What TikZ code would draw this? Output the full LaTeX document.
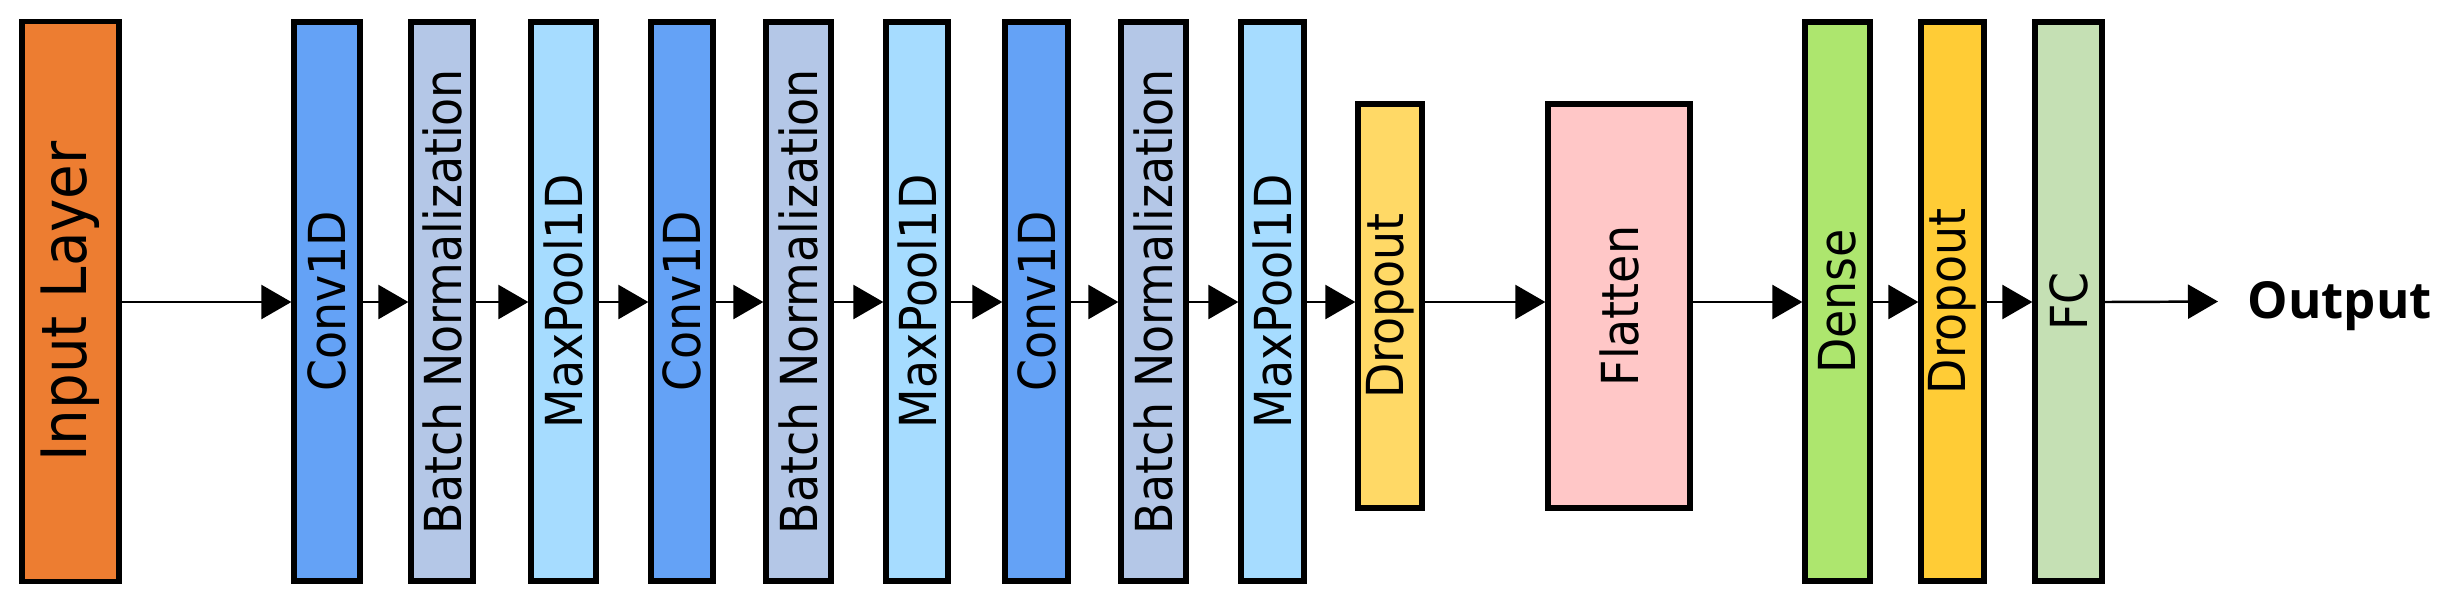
\documentclass[tikz,border=0pt]{standalone}
\usepackage{fontspec}
\setmainfont{DejaVu Sans}
\newfontfamily\cond{DejaVu Sans Condensed}
\newfontfamily\outf{Open Sans}
\usetikzlibrary{arrows.meta}
\definecolor{cin}{HTML}{ED7D31}
\definecolor{cconv}{HTML}{64A2F6}
\definecolor{cbn}{HTML}{B4C7E7}
\definecolor{cmp}{HTML}{A6DCFF}
\definecolor{cdo}{HTML}{FFD966}
\definecolor{cfl}{HTML}{FFC7C7}
\definecolor{cde}{HTML}{ADE66E}
\definecolor{cdo2}{HTML}{FFCC36}
\definecolor{cfc}{HTML}{C5E0B4}
\begin{document}
\begin{tikzpicture}[x=0.01cm,y=-0.01cm,
  box/.style={draw=black,line width=1.5pt,inner sep=0pt,font=\cond\fontsize{14.5}{17}\selectfont},
  arr/.style={line width=0.7pt,-{Triangle[length=0.3cm,width=0.34cm]}}]
\useasboundingbox (0,0) rectangle (2438,596);
\newcommand{\lay}[7]{\node[box,fill=#2,minimum width=#4*0.01cm,minimum height=#5*0.01cm] (#1) at (#3,#6) {\rotatebox{90}{#7}};}
\node[box,fill=cin,minimum width=0.97cm,minimum height=5.59cm,font=\cond\fontsize{17.8}{21}\selectfont] (in) at (70.5,301.5) {\rotatebox{90}{Input Layer}};
\lay{c1}{cconv}{327}{66}{559}{301.5}{Conv1D}
\lay{b1}{cbn}{442}{62}{559}{301.5}{Batch Normalization}
\lay{m1}{cmp}{563.5}{65}{559}{301.5}{MaxPool1D}
\lay{c2}{cconv}{682}{62}{559}{301.5}{Conv1D}
\lay{b2}{cbn}{798.5}{65}{559}{301.5}{Batch Normalization}
\lay{m2}{cmp}{917}{62}{559}{301.5}{MaxPool1D}
\lay{c3}{cconv}{1036.5}{63}{559}{301.5}{Conv1D}
\lay{b3}{cbn}{1153.5}{65}{559}{301.5}{Batch Normalization}
\lay{m3}{cmp}{1272.5}{63}{559}{301.5}{MaxPool1D}
\lay{d1}{cdo}{1390}{64}{404}{306}{Dropout}
\lay{fl}{cfl}{1619}{142}{404}{306}{Flatten}
\lay{de}{cde}{1837.5}{65}{559}{301.5}{Dense}
\lay{d2}{cdo2}{1952.5}{63}{559}{301.5}{Dropout}
\lay{fc}{cfc}{2068.5}{67}{559}{301.5}{FC}
\coordinate (oe) at (2218,301.5);
\node[anchor=west,inner sep=0pt,font=\outf\bfseries\fontsize{14.5}{17}\selectfont] (out) at (2247,306) {Output};
\foreach \a/\b in {in/c1,c1/b1,b1/m1,m1/c2,c2/b2,b2/m2,m2/c3,c3/b3,b3/m3,m3/d1,d1/fl,fl/de,de/d2,d2/fc}
  \draw[arr] (\a.east |- 0,302) -- (\b.west |- 0,302);
\draw[arr] (fc.east |- 0,302) -- (oe);
\end{tikzpicture}
\end{document}
